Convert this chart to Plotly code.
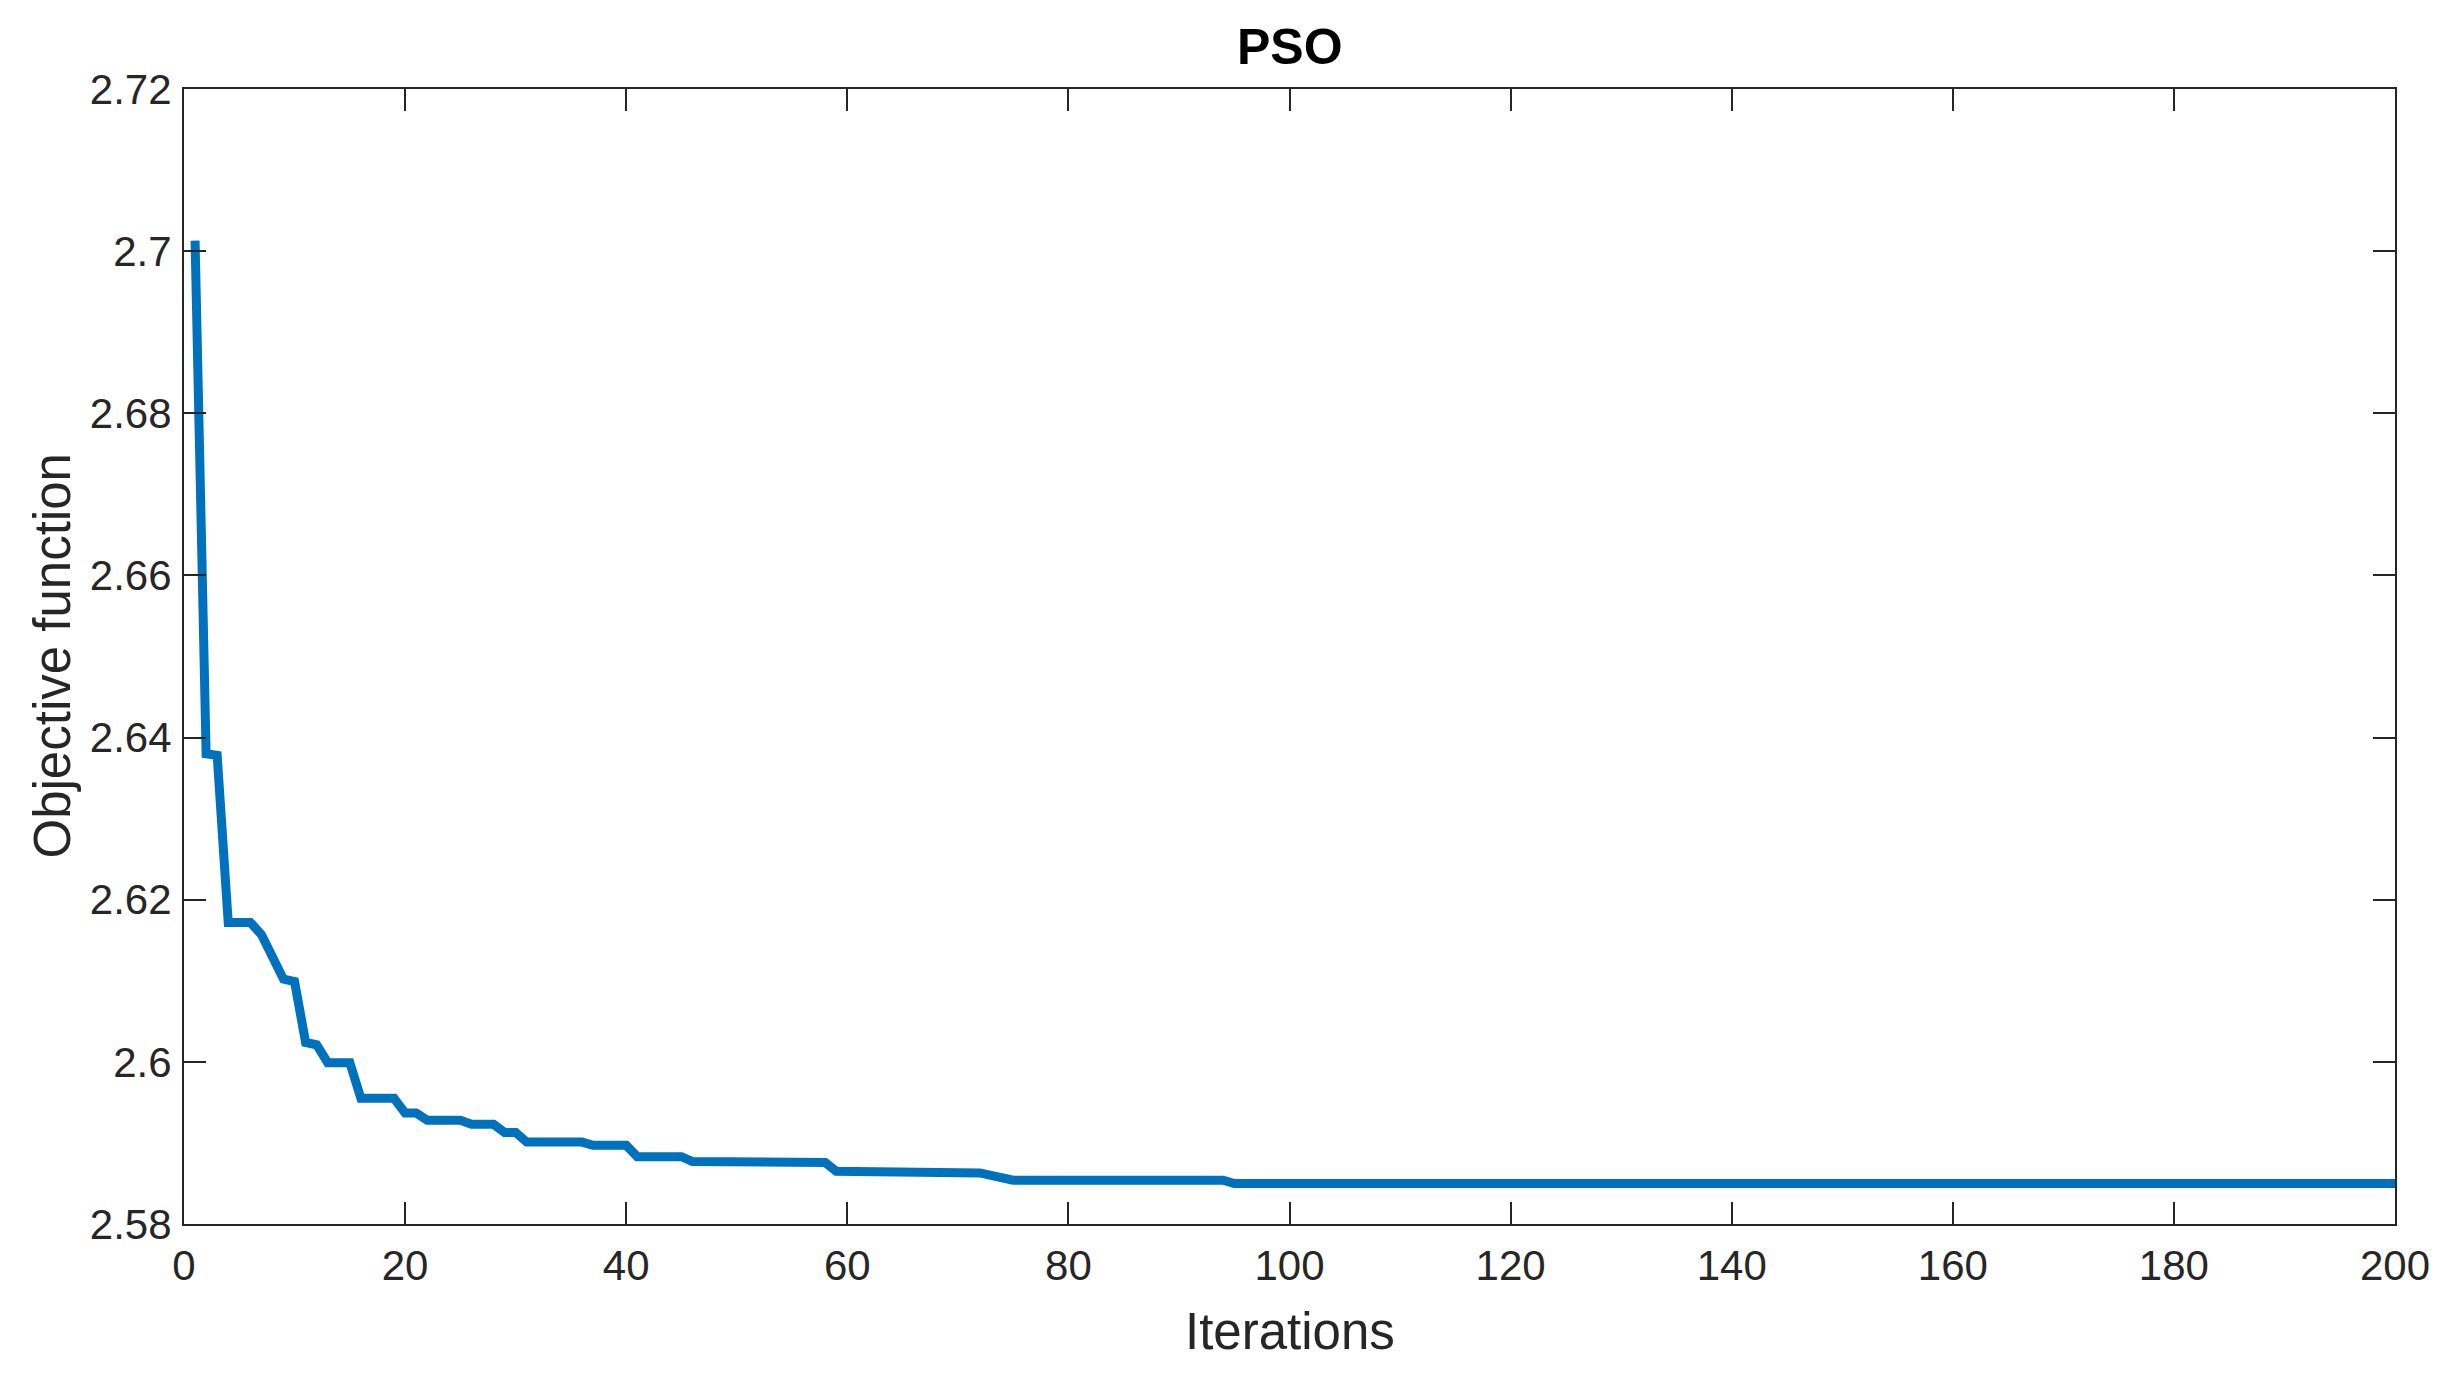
import plotly.graph_objects as go

# Run-length readings of the convergence curve (value, number of iterations)
run_values = [2.7013, 2.6380, 2.6378, 2.6172, 2.6157, 2.6130, 2.6102, 2.6099,
              2.6024, 2.6021, 2.5999, 2.5955, 2.5937, 2.5928, 2.5923, 2.5913,
              2.5901, 2.5897, 2.5883, 2.5877, 2.5876, 2.5865, 2.5863, 2.5860,
              2.5857, 2.5854, 2.5850]
run_lengths = [1, 1, 1, 3, 1, 1, 1, 1,
               1, 1, 3, 4, 2, 4, 3, 2,
               6, 4, 5, 8, 5, 13, 1, 1,
               1, 20, 106]

x_tickvals = [0, 20, 40, 60, 80, 100, 120, 140, 160, 180, 200]
y_tickvals = [2.58, 2.60, 2.62, 2.64, 2.66, 2.68, 2.70, 2.72]
y_ticktext = ["2.58", "2.6", "2.62", "2.64", "2.66", "2.68", "2.7", "2.72"]

values = []
for v, n in zip(run_values, run_lengths):
    values.extend([v] * n)
iterations = list(range(1, len(values) + 1))

TXT = "#262626"
FONT = "Arial, Liberation Sans, sans-serif"

# figure sized so the page (with its 8px body margin) does not overflow
W, H = 2449 - 16, 1382 - 16
# target pixel box, in figure coordinates
L, T, R, B = 184 - 8, 89 - 8, 2395 - 8, 1224 - 8

fig = go.Figure()
fig.add_trace(go.Scatter(x=iterations, y=values, mode="lines",
                         line=dict(color="#0072BD", width=9),
                         showlegend=False, hoverinfo="skip"))

axis_common = dict(showline=True, linecolor=TXT, linewidth=2, mirror="ticks",
                   ticks="inside", ticklen=22, tickwidth=2, tickcolor=TXT,
                   showgrid=False, zeroline=False,
                   tickfont=dict(family=FONT, size=42, color=TXT))

fig.update_xaxes(range=[0, 200], tickvals=x_tickvals, ticklabelstandoff=4,
                 **axis_common)
fig.update_yaxes(range=[2.58, 2.72], tickvals=y_tickvals, ticktext=y_ticktext,
                 ticklabelstandoff=2, **axis_common)

plot_h = B - T
plot_w = R - L
fig.update_layout(
    width=W, height=H,
    margin=dict(l=L, r=W - R, t=T, b=H - B, autoexpand=False),
    paper_bgcolor="white", plot_bgcolor="white",
    annotations=[
        dict(text="<b>PSO</b>", xref="paper", yref="paper", x=0.5,
             y=1 + (89 - 47) / plot_h, xanchor="center", yanchor="middle",
             showarrow=False, font=dict(family=FONT, size=50, color="black")),
        dict(text="Iterations", xref="paper", yref="paper", x=0.5,
             y=-(1331 - 1224) / plot_h, xanchor="center", yanchor="middle",
             showarrow=False, font=dict(family=FONT, size=51, color=TXT)),
        dict(text="Objective function", xref="paper", yref="paper",
             x=-(184 - 52) / plot_w, y=0.5, xanchor="center", yanchor="middle",
             textangle=-90, showarrow=False,
             font=dict(family=FONT, size=51, color=TXT)),
    ],
)

fig.write_html("out.html")
